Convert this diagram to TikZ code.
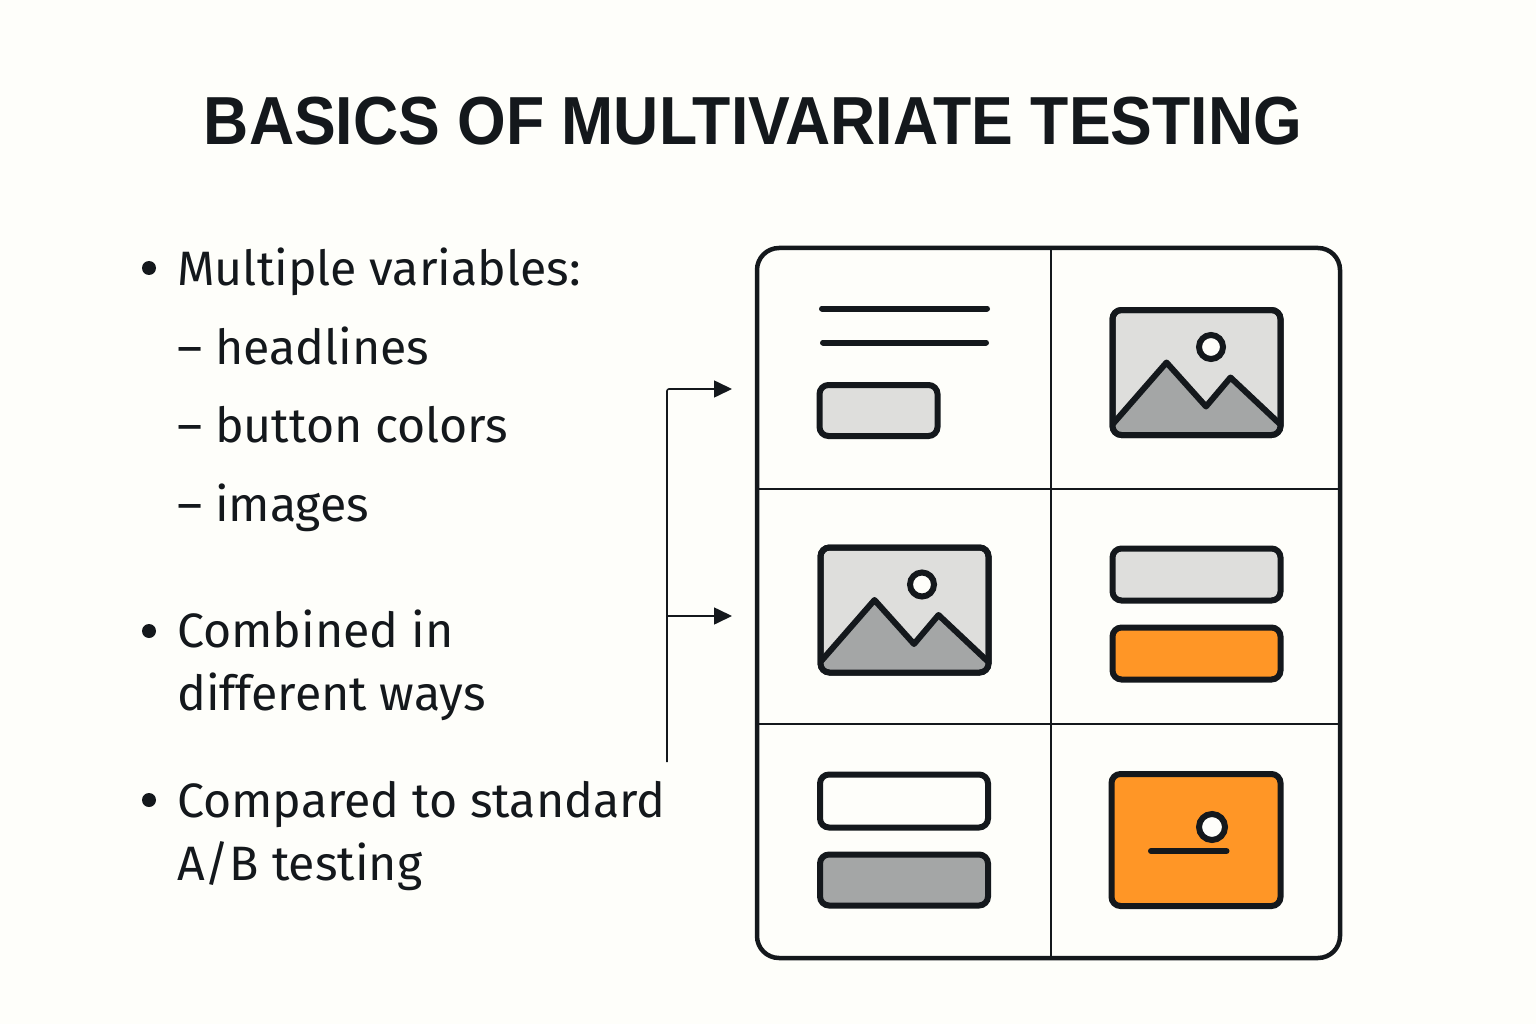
\documentclass[tikz,border=0pt]{standalone}
\usepackage{fontspec}
\usepackage{tikz}
\usetikzlibrary{arrows.meta}
\setmainfont{Fira Sans}
\newfontfamily\headfont[FakeStretch=0.92]{Liberation Sans}
\definecolor{paper}{HTML}{FEFEFA}
\definecolor{ink}{HTML}{14181C}
\definecolor{tint}{HTML}{DEDEDC}
\definecolor{stone}{HTML}{A4A6A6}
\definecolor{amber}{HTML}{FF9626}
\tikzset{
    heading/.style={anchor=base, text=ink, font=\headfont\fontsize{68}{68}\selectfont\bfseries, inner sep=0pt},
    item/.style={anchor=base west, text=ink, font=\fontsize{48.3}{48.3}\selectfont, inner sep=0pt},
    mark dot/.style={circle, fill=ink, minimum size=14pt, inner sep=0pt},
    widget/.style={draw=ink, line width=6pt, rounded corners=9pt, inner sep=0pt},
    stroke/.style={draw=ink, line width=6pt, line cap=round},
    grid/.style={draw=ink, line width=1.4pt},
    feed/.style={draw=ink, line width=1.6pt, -{Triangle[length=18pt, width=17pt]}}
}
\newcommand{\imgicon}[4]{
    \node[widget, fill=tint, minimum width=168pt, minimum height=125pt] (#1) at (#2, #3) {};
    \begin{scope}[shift={(#2, #3)}]
        \clip[rounded corners=9pt] (-84, -62.5) rectangle (84, 62.5);
        \fill[stone] (-85, 53) -- (-30, -10) -- (9.5, 34) -- (34, 5) -- (85, 53) -- (85, 70) -- (-85, 70) -- cycle;
        \draw[ink, line width=6pt, line join=round] (-85, 53) -- (-30, -10) -- (9.5, 34) -- (34, 5) -- (85, 53);
    \end{scope}
    \node[widget, minimum width=168pt, minimum height=125pt] at (#2, #3) {};
    \node[circle, draw=ink, fill=paper, line width=6pt, minimum size=24pt, inner sep=0pt] (#1sun) at ([shift={(#4, -25.5)}]#1.center) {};
}

\begin{document}
\begin{tikzpicture}[x=1pt, y=-1pt]
    \useasboundingbox[fill=paper] (0, 0) rectangle (1536, 1024);

    \node[heading] (title) at (753, 145) {BASICS OF MULTIVARIATE TESTING};

    % bullet list
    \node[mark dot] (dota) at (149, 268) {};
    \node[item] (vars) at (177, 285) {Multiple variables:};
    \node[item] (heads) at (177, 364) {– headlines};
    \node[item] (colors) at (177, 442) {– button colors};
    \node[item] (images) at (177, 521) {– images};
    \node[mark dot] (dotb) at (149, 631) {};
    \node[item] (combined) at (177, 647) {Combined in};
    \node[item] (ways) at (177, 710) {different ways};
    \node[mark dot] (dotc) at (149, 800) {};
    \node[item] (compared) at (177, 817) {Compared to standard};
    \node[item] (abtest) at (177, 880) {A/B testing};

    % table of variants
    \node[draw=ink, line width=4.5pt, rounded corners=22pt, minimum width=583pt, minimum height=710pt, inner sep=0pt] (panel) at (1048.5, 603) {};
    \coordinate (midt) at (1051, 248);
    \coordinate (midb) at (1051, 958);
    \coordinate (rowal) at (757, 489);
    \coordinate (rowar) at (1340, 489);
    \coordinate (rowbl) at (757, 724);
    \coordinate (rowbr) at (1340, 724);
    \draw[grid] (midt)--(midb) (rowal)--(rowar) (rowbl)--(rowbr);

    % top left
    \coordinate (linea) at (822, 308.5);
    \coordinate (lineaend) at (987, 308.5);
    \coordinate (lineb) at (823, 342.5);
    \coordinate (linebend) at (986, 342.5);
    \draw[stroke] (linea)--(lineaend) (lineb)--(linebend);
    \node[widget, fill=tint, minimum width=118pt, minimum height=51pt] (btna) at (878.5, 410.5) {};

    % images
    \imgicon{imga}{1196.5}{372.5}{14.5}
    \imgicon{imgb}{904.5}{610}{17.5}

    % right and bottom buttons
    \node[widget, fill=tint, minimum width=168pt, minimum height=52pt] (btnb) at (1196.5, 574.5) {};
    \node[widget, fill=amber, minimum width=168pt, minimum height=52pt] (btnc) at (1196.5, 653.5) {};
    \node[widget, fill=paper, minimum width=168pt, minimum height=53pt] (btnd) at (904, 801) {};
    \node[widget, fill=stone, minimum width=168pt, minimum height=51pt] (btne) at (904, 880) {};

    % orange card
    \node[widget, fill=amber, minimum width=169pt, minimum height=132pt] (card) at (1196, 840) {};
    \node[circle, draw=ink, fill=paper, line width=6pt, minimum size=26pt, inner sep=0pt] (cardsun) at (1212, 827) {};
    \coordinate (cardl) at (1151, 851);
    \coordinate (cardr) at (1226.5, 851);
    \draw[stroke] (cardl)--(cardr);

    % connector
    \coordinate (start) at (667, 762);
    \coordinate (fork) at (667, 616);
    \coordinate (bend) at (667, 389);
    \coordinate (tipa) at (732, 389);
    \coordinate (tipb) at (732, 616);
    \draw[feed, rounded corners=2pt] (start)--(bend)--(tipa);
    \draw[feed] (fork)--(tipb);
\end{tikzpicture}
\end{document}
